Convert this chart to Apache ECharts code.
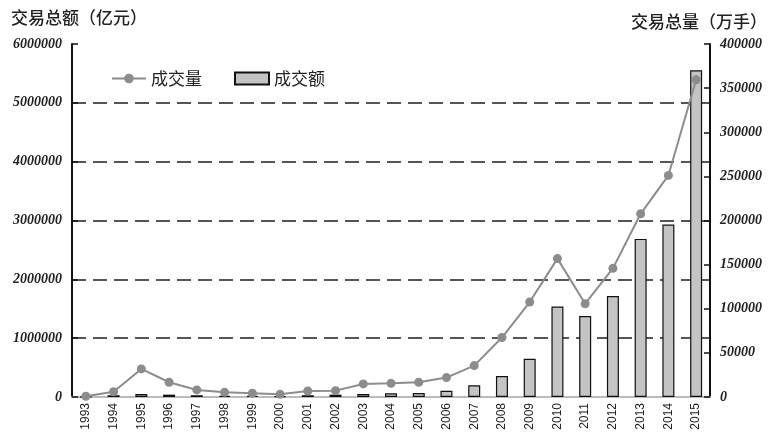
<!DOCTYPE html>
<html>
<head>
<meta charset="utf-8">
<script src="https://cdn.jsdelivr.net/npm/echarts@6/dist/echarts.min.js"></script>
<style>
html,body{margin:0;padding:0;background:#fff;}
#chart{width:776px;height:433px;}
</style>
</head>
<body>
<div id="chart"></div>
<script>
var years = ['1993','1994','1995','1996','1997','1998','1999','2000','2001','2002','2003','2004','2005','2006','2007','2008','2009','2010','2011','2012','2013','2014','2015'];
// 成交额 (亿元) - left axis, bars
var turnover = [5000, 30000, 50000, 40000, 30000, 20000, 20000, 16000, 30000, 40000, 50000, 63000, 68000, 107000, 199000, 357000, 650000, 1538000, 1378000, 1715000, 2687000, 2930000, 5554000];
// 成交量 (万手) - right axis, line
var volume = [800, 6000, 31800, 16700, 8000, 5300, 4200, 3000, 6800, 7200, 14800, 15500, 16700, 22000, 35600, 67400, 107600, 156800, 105700, 145800, 207600, 251100, 359400];
var leftTicks = [0, 1000000, 2000000, 3000000, 4000000, 5000000, 6000000];
var rightTicks = [0, 50000, 100000, 150000, 200000, 250000, 300000, 350000, 400000];

var numFont = {fontFamily:'Liberation Serif', fontStyle:'italic', fontWeight:'bold', fontSize:14, color:'#222', formatter:function(v){return String(v);}};
var chart = echarts.init(document.getElementById('chart'));
chart.setOption({
  animation:false,
  backgroundColor:'#fff',
  title:[
    {text:'交易总额（亿元）', left:6, top:4, textStyle:{fontFamily:'Noto Sans CJK SC', fontSize:17, fontWeight:500, color:'#222'}},
    {text:'交易总量（万手）', right:4, top:8, textStyle:{fontFamily:'Noto Sans CJK SC', fontSize:17, fontWeight:500, color:'#222'}}
  ],
  legend:{
    left:106, top:65, itemGap:32, itemWidth:34, itemHeight:12,
    textStyle:{fontFamily:'Noto Sans CJK SC', fontSize:17, color:'#222'},
    data:[{name:'成交量'},{name:'成交额', icon:'rect'}]
  },
  grid:{left:72, right:66, top:44, bottom:36},
  xAxis:[{
    type:'category', data:years, position:'bottom',
    axisLine:{lineStyle:{color:'#111', width:2}},
    axisTick:{inside:true, length:4, lineStyle:{color:'#333'}},
    axisLabel:{interval:0, rotate:90, fontFamily:'Liberation Sans', fontSize:12, color:'#222', margin:6}
  },{
    type:'category', data:years, position:'top',
    axisLine:{lineStyle:{color:'#bbb', width:2}},
    axisTick:{show:false}, axisLabel:{show:false}
  }],
  yAxis:[{
    type:'value', min:leftTicks[0], max:leftTicks[leftTicks.length-1], interval:leftTicks[1]-leftTicks[0],
    axisLine:{show:true, lineStyle:{color:'#111', width:2}},
    axisTick:{show:true, inside:true, length:6, lineStyle:{color:'#111', width:1.5}},
    axisLabel:Object.assign({margin:10}, numFont),
    splitLine:{show:true, showMaxLine:false, showMinLine:false, lineStyle:{color:'#555', type:[14,7], width:2}}
  },{
    type:'value', min:rightTicks[0], max:rightTicks[rightTicks.length-1], interval:rightTicks[1]-rightTicks[0],
    axisLine:{show:true, lineStyle:{color:'#111', width:2}},
    axisTick:{show:true, inside:true, length:6, lineStyle:{color:'#111', width:1.5}},
    axisLabel:Object.assign({margin:10}, numFont),
    splitLine:{show:false}
  }],
  series:[{
    name:'成交量', type:'line', yAxisIndex:1, data:volume, z:3,
    symbol:'circle', symbolSize:9,
    lineStyle:{color:'#8c8c8c', width:2},
    itemStyle:{color:'#8c8c8c'}
  },{
    name:'成交额', type:'bar', yAxisIndex:0, data:turnover, barWidth:12, z:2,
    itemStyle:{color:'#c4c4c4', borderColor:'#111', borderWidth:1.2}
  }]
});
</script>
</body>
</html>
